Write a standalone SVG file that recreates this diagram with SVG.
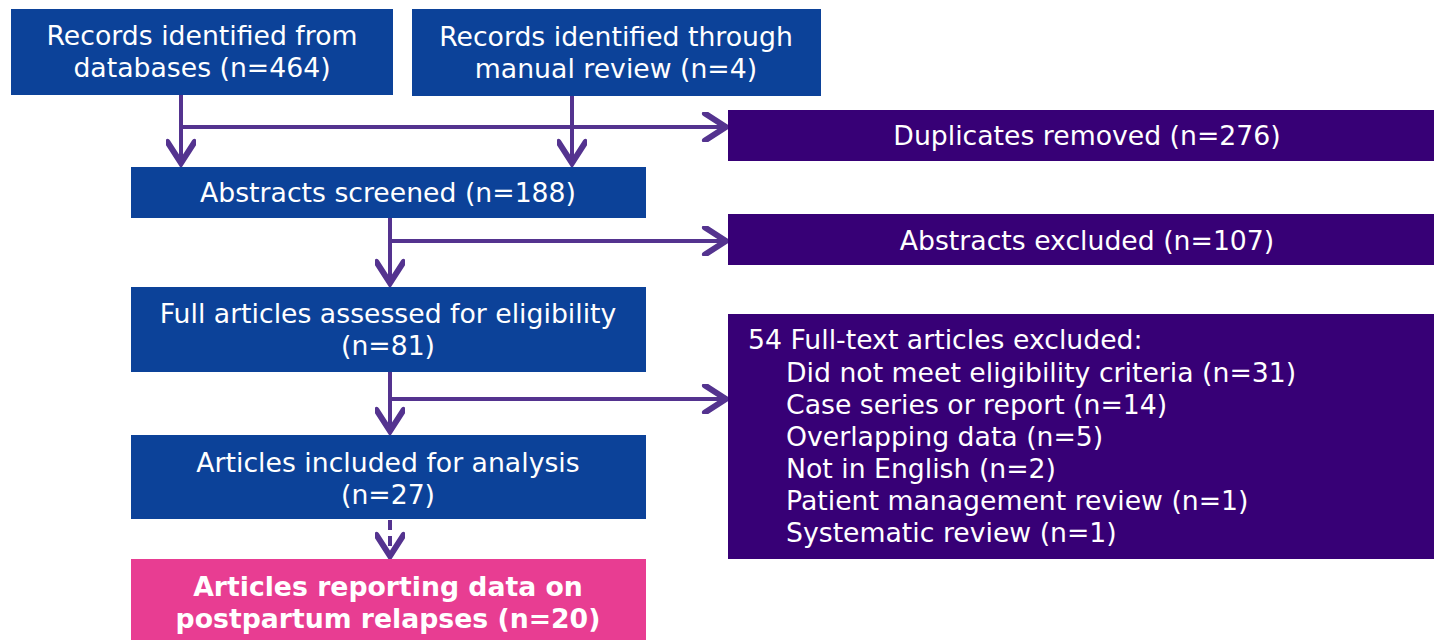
<svg xmlns="http://www.w3.org/2000/svg" width="1434" height="640" viewBox="0 0 1434 640">
<defs>
<style>
.blue{fill:#0C4299}
.purple{fill:#370076}
.pink{fill:#E83D92}
text{font-family:"DejaVu Sans",Verdana,sans-serif;font-size:26.7px;fill:#fff}
.c{text-anchor:middle}
.b{font-weight:bold}
.ln{stroke:#54338F;stroke-width:4;fill:none}
.dash{stroke-dasharray:10 6}
</style>
<marker id="ah" markerUnits="userSpaceOnUse" markerWidth="30" markerHeight="30" viewBox="-16 -10 18 20" refX="0" refY="0" orient="auto">
<path d="M-14,-9 L0,0 L-14,9" fill="none" stroke="#54338F" stroke-width="4" stroke-linecap="round" stroke-linejoin="miter"/>
</marker>
</defs>
<rect width="1434" height="640" fill="#fff"/>
<g id="connectors">
<line class="ln" x1="181" y1="95" x2="181" y2="163" marker-end="url(#ah)"/>
<line class="ln" x1="572" y1="96" x2="572" y2="163" marker-end="url(#ah)"/>
<line class="ln" x1="181" y1="127" x2="726" y2="127" marker-end="url(#ah)"/>
<line class="ln" x1="390" y1="218" x2="390" y2="283" marker-end="url(#ah)"/>
<line class="ln" x1="390" y1="241" x2="726" y2="241" marker-end="url(#ah)"/>
<line class="ln" x1="390" y1="372" x2="390" y2="431" marker-end="url(#ah)"/>
<line class="ln" x1="390" y1="399" x2="726" y2="399" marker-end="url(#ah)"/>
<line class="ln dash" x1="390" y1="520" x2="390" y2="556" marker-end="url(#ah)"/>
</g>
<g id="n1"><rect class="blue" x="11" y="9" width="382" height="86"/>
<text class="c" x="202" y="45">Records identified from</text><text class="c" x="202" y="77">databases (n=464)</text></g>
<g id="n2"><rect class="blue" x="412" y="9" width="409" height="87"/>
<text class="c" x="616" y="46">Records identified through</text><text class="c" x="616" y="78">manual review (n=4)</text></g>
<g id="n3"><rect class="purple" x="728" y="110" width="706" height="51"/>
<text class="c" x="1087" y="145">Duplicates removed (n=276)</text></g>
<g id="n4"><rect class="blue" x="131" y="167" width="515" height="51"/>
<text class="c" x="388" y="202">Abstracts screened (n=188)</text></g>
<g id="n5"><rect class="purple" x="728" y="214" width="706" height="51"/>
<text class="c" x="1087" y="250">Abstracts excluded (n=107)</text></g>
<g id="n6"><rect class="blue" x="131" y="287" width="515" height="85"/>
<text class="c" x="388" y="323">Full articles assessed for eligibility</text><text class="c" x="388" y="355">(n=81)</text></g>
<g id="n7"><rect class="purple" x="728" y="314" width="706" height="245"/>
<text x="748" y="349">54 Full-text articles excluded:</text>
<text x="786" y="382">Did not meet eligibility criteria (n=31)</text>
<text x="786" y="414">Case series or report (n=14)</text>
<text x="786" y="446">Overlapping data (n=5)</text>
<text x="786" y="478">Not in English (n=2)</text>
<text x="786" y="510">Patient management review (n=1)</text>
<text x="786" y="542">Systematic review (n=1)</text></g>
<g id="n8"><rect class="blue" x="131" y="435" width="515" height="84"/>
<text class="c" x="388" y="472">Articles included for analysis</text><text class="c" x="388" y="504">(n=27)</text></g>
<g id="n9"><rect class="pink" x="131" y="559" width="515" height="81"/>
<text class="c b" x="388" y="596">Articles reporting data on</text><text class="c b" x="388" y="628">postpartum relapses (n=20)</text></g>
</svg>
